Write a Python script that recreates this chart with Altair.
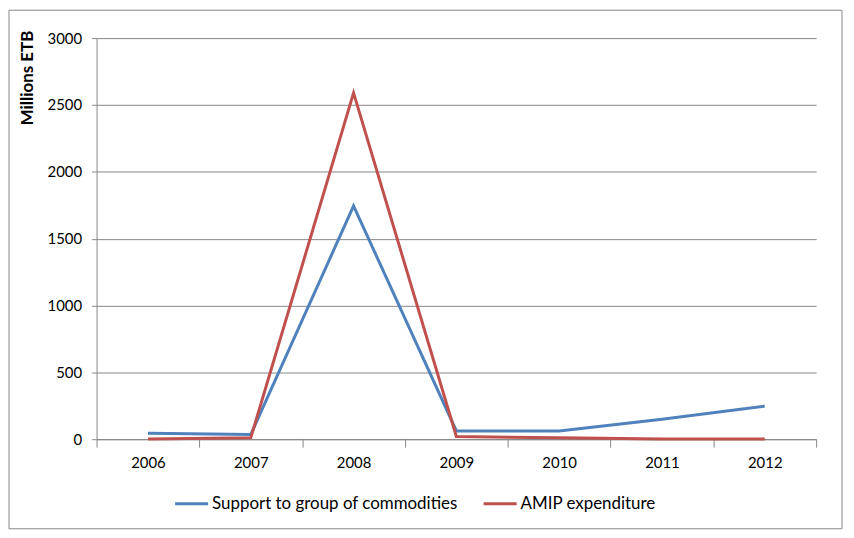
import altair as alt
import pandas as pd

years = ["2006", "2007", "2008", "2009", "2010", "2011", "2012"]
support = [45, 35, 1745, 62, 62, 150, 248]
amip = [2, 10, 2590, 20, 10, 2, 2]
series_names = ["Support to group of commodities", "AMIP expenditure"]
series_colors = ["#4F81BD", "#C0504D"]
y_ticks = [0, 500, 1000, 1500, 2000, 2500, 3000]

rows = []
for name, vals in zip(series_names, [support, amip]):
    for yr, v in zip(years, vals):
        rows.append({"Year": yr, "Value": v, "Series": name})
df = pd.DataFrame(rows)

FONT = "Lato"

lines = alt.Chart(df).mark_line(strokeWidth=3).encode(
    x=alt.X("Year:O", sort=years,
            scale=alt.Scale(type="band", paddingInner=0, paddingOuter=0),
            axis=alt.Axis(title=None, labelAngle=0, tickBand="extent", tickSize=8,
                          labelPadding=8, domainColor="#868686", tickColor="#868686",
                          labelColor="#000000", labelFont=FONT, labelFontSize=15, grid=False)),
    y=alt.Y("Value:Q", scale=alt.Scale(domain=[0, 3000], nice=False),
            axis=alt.Axis(values=y_ticks, format="d", title="Millions ETB", titleFont=FONT,
                          titleFontSize=17, titleFontWeight="bold", titleColor="#000000",
                          titleAngle=-90, titleX=-69, titleY=-8, titleAlign="right",
                          titleBaseline="middle",
                          tickSize=5, labelPadding=10, domainColor="#868686", tickColor="#868686",
                          gridColor="#868686", gridWidth=1, labelColor="#000000",
                          labelFont=FONT, labelFontSize=15)),
    color=alt.Color("Series:N", sort=series_names,
                    scale=alt.Scale(domain=series_names, range=series_colors),
                    legend=alt.Legend(title=None, orient="none", direction="horizontal",
                                      legendX=77, legendY=449, symbolType="stroke",
                                      symbolSize=1100, symbolStrokeWidth=3, columnPadding=19,
                                      labelFont=FONT, labelFontSize=17, labelColor="#000000",
                                      labelOffset=2, labelLimit=400)),
)

border = alt.Chart(pd.DataFrame({"a": [0]})).mark_rect(
    fill="transparent", stroke="#888888", strokeWidth=1
).encode(x=alt.value(-88), x2=alt.value(749), y=alt.value(-28), y2=alt.value(493))

chart = alt.layer(border, lines).properties(
    width=723, height=403,
    autosize=alt.AutoSizeParams(type="none"),
    padding={"left": 89, "top": 29, "right": 30, "bottom": 94},
    background="white",
).configure_view(stroke=None)

chart.save("out.html", embed_options={"renderer": "svg", "actions": False})
